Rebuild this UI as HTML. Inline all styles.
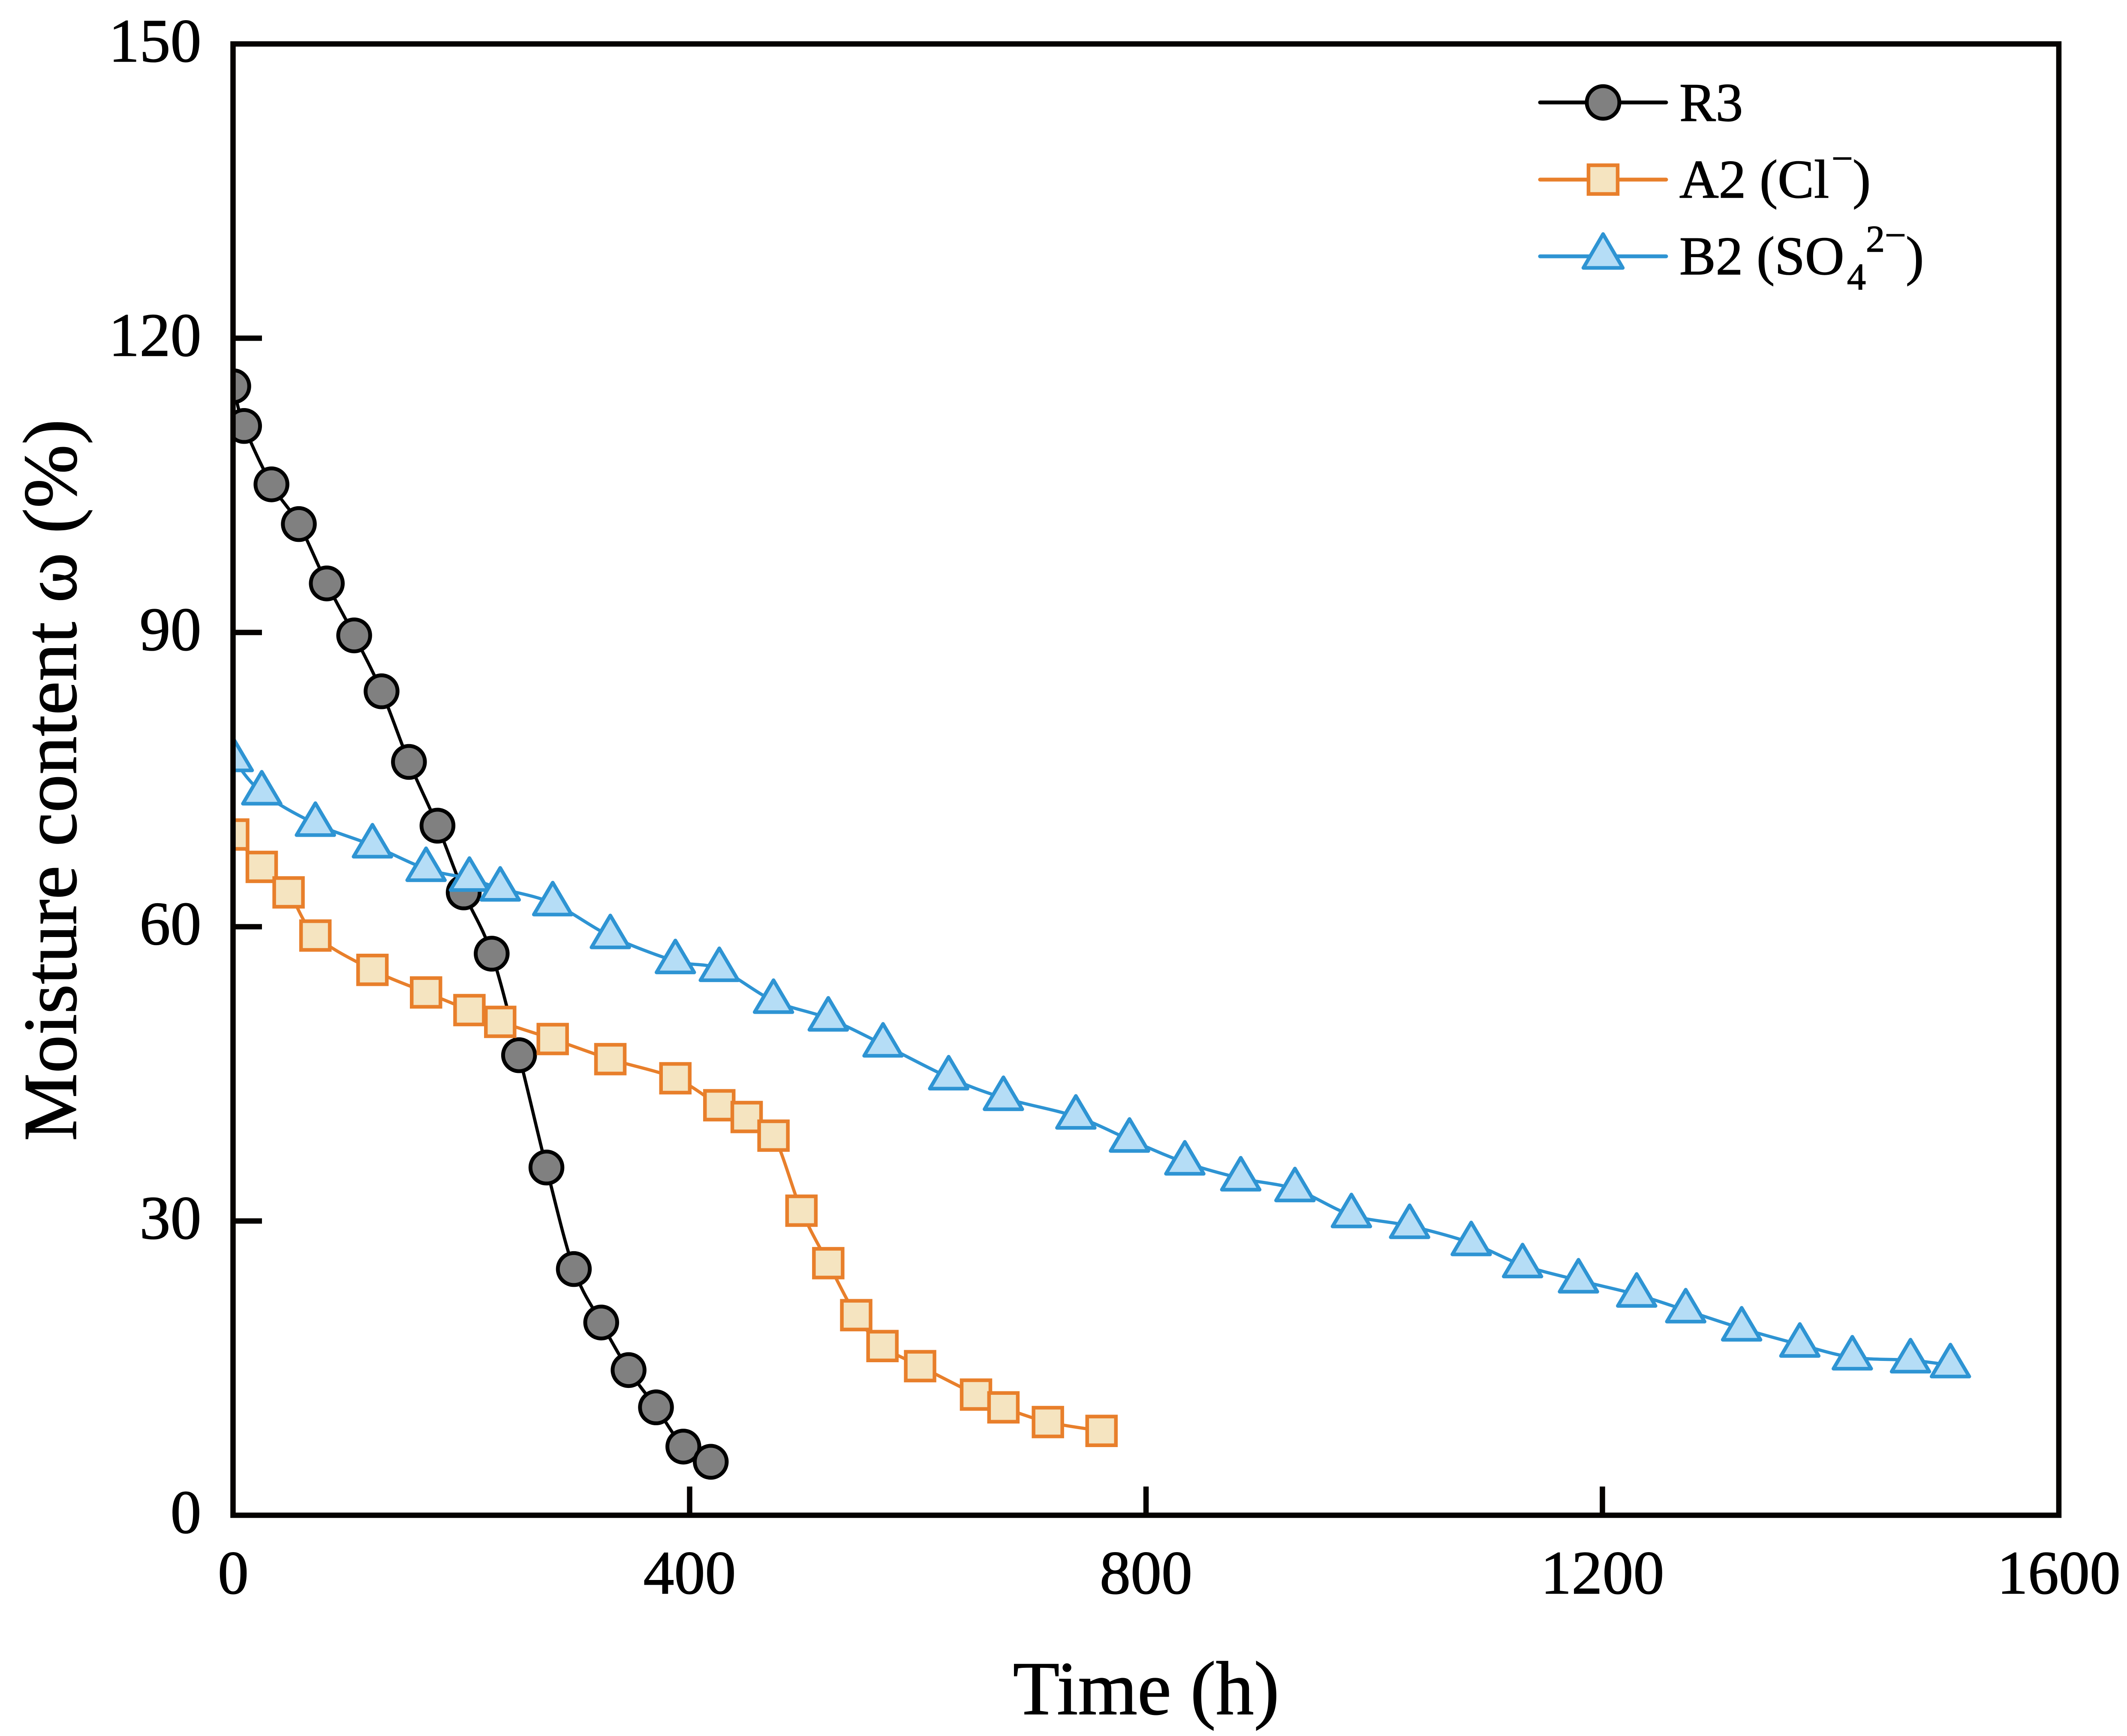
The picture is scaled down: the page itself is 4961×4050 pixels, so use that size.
<!DOCTYPE html>
<html lang="en">
<head>
<meta charset="utf-8">
<title>Moisture content vs time</title>
<style>
html,body{margin:0;padding:0;background:#fff;}
svg{display:block;}
text{font-family:"Liberation Serif","DejaVu Serif",serif;fill:#000;stroke:#000;stroke-width:1.5px;}
</style>
</head>
<body>
<svg id="chart" xmlns="http://www.w3.org/2000/svg" width="4961" height="4050" viewBox="0 0 4961 4050">
  <defs>
    <clipPath id="plot-clip"><rect x="544" y="102.5" width="4258" height="3432.5"/></clipPath>
  </defs>
  <rect x="0" y="0" width="4961" height="4050" fill="#ffffff"/>
  <g id="series-layer" clip-path="url(#plot-clip)"></g>
  <g id="tick-layer"></g>
  <rect x="543.5" y="102.5" width="4258.5" height="3432.5" fill="none" stroke="#050200" stroke-width="12.5"/>
  <text x="2362.5" y="3999" font-size="178">Time (h)</text>
  <text transform="translate(177 2662) rotate(-90)" font-size="178">Moisture content ω (%)</text>

  <g>
    <g>
      <line x1="3592" y1="239" x2="3886" y2="239" stroke="#000" stroke-width="9" stroke-linecap="round"/>
      <circle cx="3739" cy="239" r="38" fill="#808080" stroke="#000" stroke-width="9"/>
      <text x="3917" y="282" font-size="127">R3</text>
    </g>
    <g>
      <line x1="3592" y1="419" x2="3886" y2="419" stroke="#E87F2B" stroke-width="9" stroke-linecap="round"/>
      <rect x="3705" y="385.5" width="68" height="67" fill="#F5E4C0" stroke="#E87F2B" stroke-width="8.5"/>
      <text font-size="127"><tspan x="3917" y="461">A2 (Cl</tspan><tspan x="4272" y="399" font-size="88">−</tspan><tspan x="4321" y="461">)</tspan></text>
    </g>
    <g>
      <line x1="3592" y1="598" x2="3886" y2="598" stroke="#2E94D3" stroke-width="9" stroke-linecap="round"/>
      <polygon points="3739,546 3785,625 3693,625" fill="#B5DDF6" stroke="#2E94D3" stroke-width="8.5" stroke-linejoin="round"/>
      <text font-size="127"><tspan x="3917" y="640">B2 (SO</tspan><tspan x="4308" y="675" font-size="88">4</tspan><tspan x="4352" y="587" font-size="88">2</tspan><tspan x="4396" y="578" font-size="88">−</tspan><tspan x="4445" y="640">)</tspan></text>
    </g>
  </g>
</svg>

<script>
const xTickValues = [0, 400, 800, 1200, 1600];
const yTickValues = [0, 30, 60, 90, 120, 150];

const r3Times = [0, 9.5, 33.5, 57.5, 82, 106, 130, 154, 179, 202, 226.5, 250.5, 274.5, 298.5, 322.5, 346.5, 370.5, 394.5, 418.5];
const r3Moisture = [115.1, 111.05, 105.1, 101.05, 95, 89.7, 84, 76.8, 70.3, 63.5, 57.25, 46.9, 35.45, 25.1, 19.65, 14.8, 11, 7, 5.45];

const a2Times = [0, 25, 48.5, 72, 122, 169, 207, 234, 280, 330.5, 387.5, 426, 450, 473.5, 498, 521.5, 546, 569, 602, 651, 675, 714, 761];
const a2Moisture = [69.4, 66.1, 63.5, 59.1, 55.6, 53.3, 51.5, 50.3, 48.55, 46.5, 44.55, 41.8, 40.6, 38.7, 31.05, 25.7, 20.4, 17.25, 15.2, 12.3, 11, 9.5, 8.6];

const b2Times = [0, 25, 72, 122, 169, 207, 234, 280, 330.5, 387.5, 426, 473.5, 521.5, 569.5, 627, 675, 738.5, 785.5, 834, 883, 930.5, 980, 1031, 1085, 1130, 1179, 1230, 1273, 1322, 1373, 1419, 1470, 1505];
const b2Moisture = [77.1, 73.7, 70.5, 68.3, 65.9, 64.9, 63.9, 62.4, 59.05, 56.5, 55.7, 52.45, 50.65, 48, 44.65, 42.55, 40.65, 38.3, 35.97, 34.35, 33.25, 30.6, 29.5, 27.75, 25.5, 23.95, 22.5, 20.9, 19.05, 17.4, 16.1, 15.8, 15.3];

const SVG_NS = 'http://www.w3.org/2000/svg';
const PLOT_LEFT = 544, PLOT_RIGHT = 4802, PLOT_TOP = 102.5, PLOT_BOTTOM = 3535;
const X_MAX = 1600, Y_MAX = 150;

function xScale(v) { return PLOT_LEFT + (v / X_MAX) * (PLOT_RIGHT - PLOT_LEFT); }
function yScale(v) { return PLOT_BOTTOM - (v / Y_MAX) * (PLOT_BOTTOM - PLOT_TOP); }

function make(tag, attrs) {
  const el = document.createElementNS(SVG_NS, tag);
  for (const k in attrs) el.setAttribute(k, attrs[k]);
  return el;
}

function smoothPath(pts) {
  let d = 'M' + pts[0][0].toFixed(1) + ' ' + pts[0][1].toFixed(1);
  for (let i = 0; i < pts.length - 1; i++) {
    const p0 = pts[Math.max(i - 1, 0)];
    const p1 = pts[i];
    const p2 = pts[i + 1];
    const p3 = pts[Math.min(i + 2, pts.length - 1)];
    const c1x = p1[0] + (p2[0] - p0[0]) / 6;
    const c1y = p1[1] + (p2[1] - p0[1]) / 6;
    const c2x = p2[0] - (p3[0] - p1[0]) / 6;
    const c2y = p2[1] - (p3[1] - p1[1]) / 6;
    d += 'C' + c1x.toFixed(1) + ' ' + c1y.toFixed(1) + ' ' + c2x.toFixed(1) + ' ' + c2y.toFixed(1) + ' ' + p2[0].toFixed(1) + ' ' + p2[1].toFixed(1);
  }
  return d;
}

const seriesLayer = document.getElementById('series-layer');
const tickLayer = document.getElementById('tick-layer');

function addSeries(key, times, values, color, drawMarker) {
  const group = make('g', {});
  
  
  const pts = times.map(function (t, i) { return [xScale(t), yScale(values[i])]; });
  const line = make('path', { d: smoothPath(pts), fill: 'none', stroke: color, 'stroke-width': 7.5, 'stroke-linejoin': 'round' });
  
  
  group.appendChild(line);
  pts.forEach(function (p) {
    const m = drawMarker(p[0], p[1]);
    
    
    group.appendChild(m);
  });
  seriesLayer.appendChild(group);
}

addSeries('r3', r3Times, r3Moisture, '#000000', function (x, y) {
  return make('circle', { cx: x, cy: y, r: 37.25, fill: '#808080', stroke: '#000000', 'stroke-width': 9 });
});
addSeries('a2', a2Times, a2Moisture, '#E87F2B', function (x, y) {
  return make('rect', { x: x - 33.5, y: y - 33.5, width: 67, height: 67, fill: '#F5E4C0', stroke: '#E87F2B', 'stroke-width': 8.5 });
});
addSeries('b2', b2Times, b2Moisture, '#2E94D3', function (x, y) {
  const pointsAttr = x + ',' + (y - 48) + ' ' + (x + 44) + ',' + (y + 26.5) + ' ' + (x - 44) + ',' + (y + 26.5);
  return make('polygon', { points: pointsAttr, fill: '#B5DDF6', stroke: '#2E94D3', 'stroke-width': 8.5, 'stroke-linejoin': 'round' });
});

xTickValues.forEach(function (v) {
  const x = xScale(v);
  if (v !== 0 && v !== X_MAX) {
    const tick = make('line', { x1: x, x2: x, y1: PLOT_BOTTOM, y2: PLOT_BOTTOM - 67, stroke: '#050200', 'stroke-width': 12.5 });
    
    
    tickLayer.appendChild(tick);
  }
  const label = make('text', { x: x, y: 3717.5, 'font-size': 144, 'text-anchor': 'middle' });
  
  
  label.textContent = String(v);
  tickLayer.appendChild(label);
});

yTickValues.forEach(function (v) {
  const y = yScale(v);
  if (v !== 0 && v !== Y_MAX) {
    const tick = make('line', { x1: PLOT_LEFT, x2: PLOT_LEFT + 67, y1: y, y2: y, stroke: '#050200', 'stroke-width': 12.5 });
    
    
    tickLayer.appendChild(tick);
  }
  const label = make('text', { x: 469.5, y: y + 41, 'font-size': 144, 'text-anchor': 'end' });
  
  
  label.textContent = String(v);
  tickLayer.appendChild(label);
});
</script>
</body>
</html>
